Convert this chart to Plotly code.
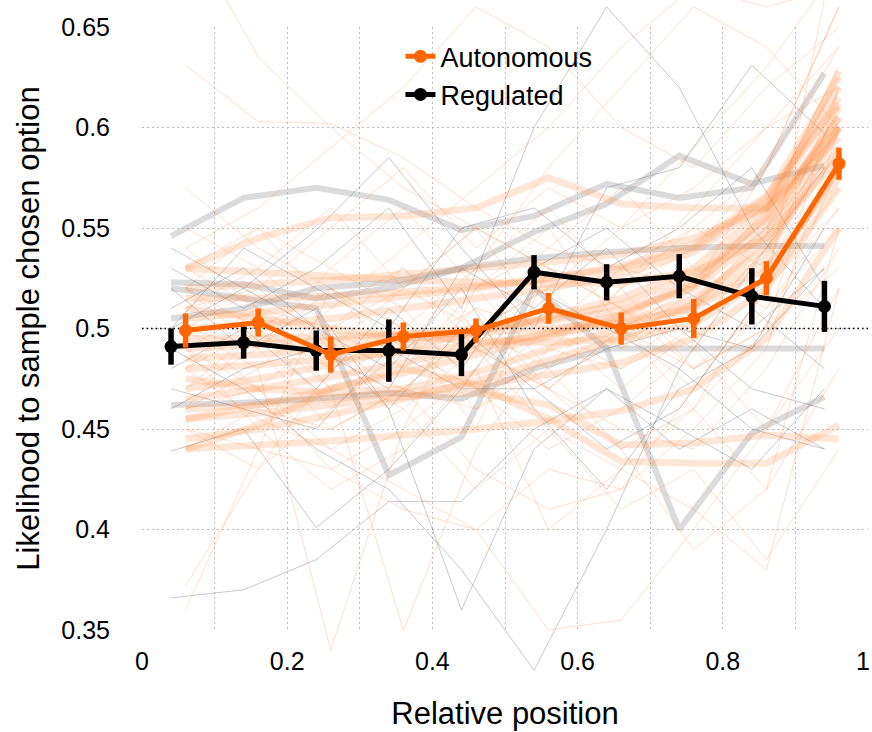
import plotly.graph_objects as go

# ---------------- data ----------------
x_reg = [0.04, 0.14, 0.24, 0.34, 0.44, 0.54, 0.64, 0.74, 0.84, 0.94]
x_aut = [0.06, 0.16, 0.26, 0.36, 0.46, 0.56, 0.66, 0.76, 0.86, 0.96]

reg_mean = [0.491, 0.493, 0.489, 0.489, 0.487, 0.528, 0.523, 0.526, 0.516, 0.511]
reg_err = [0.009, 0.008, 0.010, 0.0155, 0.0107, 0.0085, 0.009, 0.011, 0.014, 0.0127]

aut_mean = [0.499, 0.503, 0.487, 0.496, 0.499, 0.510, 0.500, 0.505, 0.525, 0.582]
aut_err = [0.0085, 0.007, 0.009, 0.007, 0.006, 0.0077, 0.008, 0.0097, 0.0085, 0.008]

ref_level = 0.5

x_ticks = [0, 0.2, 0.4, 0.6, 0.8]
x_ticktext = ["0", "0.2", "0.4", "0.6", "0.8"]
x_last_tick = 1
x_last_text = "1"
y_ticks = [0.35, 0.4, 0.45, 0.5, 0.55, 0.6, 0.65]
y_ticktext = ["0.35", "0.4", "0.45", "0.5", "0.55", "0.6", "0.65"]

# individual participants (thin) and fitted curves (thick)
aut_thin = [
    [0.70, 0.635, 0.60, 0.57, 0.55, 0.53, 0.52, 0.56, 0.60, 0.64],
    [0.631, 0.603, 0.602, 0.585, 0.56, 0.54, 0.53, 0.55, 0.58, 0.66],
    [0.372, 0.43, 0.48, 0.47, 0.50, 0.52, 0.49, 0.51, 0.55, 0.60],
    [0.36, 0.44, 0.52, 0.50, 0.46, 0.48, 0.50, 0.47, 0.52, 0.56],
    [0.50, 0.48, 0.34, 0.45, 0.52, 0.55, 0.50, 0.48, 0.50, 0.58],
    [0.53, 0.51, 0.47, 0.35, 0.44, 0.49, 0.52, 0.55, 0.53, 0.62],
    [0.48, 0.455, 0.44, 0.42, 0.40, 0.35, 0.355, 0.40, 0.45, 0.50],
    [0.45, 0.44, 0.43, 0.41, 0.40, 0.43, 0.42, 0.47, 0.52, 0.57],
    [0.52, 0.55, 0.53, 0.56, 0.52, 0.48, 0.44, 0.46, 0.42, 0.55],
    [0.49, 0.47, 0.50, 0.52, 0.55, 0.53, 0.51, 0.49, 0.52, 0.58],
    [0.55, 0.53, 0.56, 0.52, 0.50, 0.47, 0.45, 0.44, 0.48, 0.54],
    [0.47, 0.50, 0.48, 0.46, 0.49, 0.45, 0.41, 0.43, 0.385, 0.44],
    [0.51, 0.52, 0.49, 0.47, 0.43, 0.41, 0.42, 0.45, 0.49, 0.60],
    [0.46, 0.48, 0.51, 0.54, 0.57, 0.60, 0.64, 0.67, 0.66, 0.67],
    [0.54, 0.56, 0.59, 0.62, 0.66, 0.64, 0.60, 0.58, 0.62, 0.65],
    [0.50, 0.49, 0.52, 0.48, 0.51, 0.50, 0.53, 0.52, 0.56, 0.63],
    [0.44, 0.46, 0.45, 0.47, 0.46, 0.49, 0.48, 0.50, 0.54, 0.61],
    [0.57, 0.54, 0.52, 0.50, 0.49, 0.47, 0.50, 0.52, 0.55, 0.59],
    [0.48, 0.50, 0.47, 0.50, 0.53, 0.56, 0.52, 0.48, 0.51, 0.55],
    [0.52, 0.50, 0.46, 0.49, 0.47, 0.44, 0.46, 0.49, 0.45, 0.52],
    [0.46, 0.47, 0.43, 0.45, 0.48, 0.51, 0.49, 0.52, 0.58, 0.66],
    [0.53, 0.55, 0.51, 0.53, 0.50, 0.52, 0.55, 0.57, 0.60, 0.62],
    [0.49, 0.45, 0.42, 0.44, 0.48, 0.40, 0.43, 0.46, 0.50, 0.53],
    [0.51, 0.53, 0.50, 0.48, 0.52, 0.54, 0.57, 0.53, 0.51, 0.56],
    [0.47, 0.49, 0.53, 0.51, 0.47, 0.50, 0.48, 0.51, 0.53, 0.59],
    [0.50, 0.52, 0.55, 0.58, 0.54, 0.57, 0.55, 0.59, 0.63, 0.68],
    [0.45, 0.43, 0.46, 0.49, 0.51, 0.47, 0.44, 0.39, 0.42, 0.48],
    [0.54, 0.51, 0.49, 0.52, 0.55, 0.50, 0.47, 0.50, 0.54, 0.60],
    [0.48, 0.51, 0.48, 0.50, 0.45, 0.53, 0.51, 0.48, 0.50, 0.62],
    [0.52, 0.49, 0.45, 0.47, 0.50, 0.48, 0.52, 0.54, 0.58, 0.64],
    [0.50, 0.47, 0.44, 0.46, 0.42, 0.45, 0.43, 0.41, 0.38, 0.52],
    [0.49, 0.51, 0.50, 0.53, 0.49, 0.47, 0.50, 0.46, 0.52, 0.70],
    [0.46, 0.50, 0.52, 0.49, 0.53, 0.58, 0.62, 0.66, 0.64, 0.60],
]

aut_fit = [
    [0.505, 0.508, 0.512, 0.516, 0.520, 0.525, 0.530, 0.540, 0.565, 0.625],
    [0.470, 0.475, 0.482, 0.490, 0.498, 0.506, 0.515, 0.530, 0.560, 0.615],
    [0.455, 0.462, 0.470, 0.478, 0.487, 0.496, 0.506, 0.522, 0.552, 0.605],
    [0.520, 0.522, 0.524, 0.527, 0.530, 0.533, 0.537, 0.545, 0.560, 0.595],
    [0.480, 0.482, 0.485, 0.488, 0.492, 0.497, 0.503, 0.515, 0.540, 0.590],
    [0.445, 0.450, 0.457, 0.465, 0.474, 0.484, 0.495, 0.512, 0.545, 0.600],
    [0.495, 0.495, 0.496, 0.497, 0.498, 0.500, 0.503, 0.510, 0.530, 0.575],
    [0.530, 0.528, 0.526, 0.524, 0.523, 0.522, 0.523, 0.528, 0.545, 0.585],
    [0.460, 0.462, 0.465, 0.468, 0.472, 0.477, 0.483, 0.495, 0.520, 0.570],
    [0.510, 0.505, 0.500, 0.496, 0.494, 0.493, 0.495, 0.502, 0.525, 0.580],
    [0.440, 0.442, 0.444, 0.447, 0.450, 0.454, 0.459, 0.470, 0.495, 0.550],
    [0.490, 0.492, 0.494, 0.497, 0.500, 0.504, 0.509, 0.520, 0.548, 0.610],
    [0.530, 0.545, 0.555, 0.556, 0.560, 0.575, 0.562, 0.560, 0.560, 0.600],
    [0.455, 0.458, 0.462, 0.466, 0.468, 0.462, 0.442, 0.443, 0.447, 0.445],
    [0.440, 0.452, 0.470, 0.480, 0.472, 0.455, 0.434, 0.433, 0.433, 0.452],
    [0.475, 0.470, 0.468, 0.470, 0.478, 0.490, 0.500, 0.512, 0.535, 0.600],
    [0.500, 0.502, 0.505, 0.510, 0.515, 0.520, 0.527, 0.538, 0.562, 0.620],
    [0.465, 0.470, 0.476, 0.483, 0.490, 0.498, 0.507, 0.523, 0.556, 0.628],
    [0.515, 0.515, 0.516, 0.518, 0.521, 0.525, 0.531, 0.542, 0.566, 0.612],
    [0.485, 0.487, 0.490, 0.494, 0.499, 0.505, 0.512, 0.526, 0.555, 0.605],
]

reg_thin = [
    [0.366, 0.370, 0.385, 0.414, 0.414, 0.45, 0.47, 0.44, 0.46, 0.44],
    [0.439, 0.450, 0.401, 0.43, 0.47, 0.47, 0.49, 0.50, 0.47, 0.46],
    [0.50, 0.52, 0.549, 0.585, 0.54, 0.50, 0.57, 0.58, 0.631, 0.597],
    [0.52, 0.49, 0.51, 0.46, 0.50, 0.47, 0.44, 0.46, 0.51, 0.48],
    [0.48, 0.50, 0.47, 0.51, 0.48, 0.53, 0.55, 0.52, 0.50, 0.53],
    [0.53, 0.51, 0.53, 0.56, 0.51, 0.60, 0.66, 0.62, 0.55, 0.51],
    [0.47, 0.46, 0.45, 0.49, 0.47, 0.52, 0.50, 0.48, 0.45, 0.44],
    [0.51, 0.53, 0.50, 0.48, 0.52, 0.46, 0.42, 0.47, 0.49, 0.55],
    [0.49, 0.47, 0.44, 0.42, 0.38, 0.33, 0.40, 0.48, 0.53, 0.58],
    [0.50, 0.54, 0.52, 0.50, 0.55, 0.56, 0.53, 0.55, 0.58, 0.52],
    [0.46, 0.48, 0.49, 0.47, 0.53, 0.51, 0.54, 0.50, 0.49, 0.53],
    [0.54, 0.52, 0.50, 0.46, 0.36, 0.44, 0.47, 0.45, 0.43, 0.47],
]

reg_fit = [
    [0.546, 0.565, 0.570, 0.564, 0.549, 0.556, 0.572, 0.565, 0.570, 0.627],
    [0.523, 0.522, 0.515, 0.520, 0.530, 0.548, 0.562, 0.586, 0.572, 0.581],
    [0.505, 0.510, 0.520, 0.523, 0.530, 0.535, 0.538, 0.540, 0.541, 0.541],
    [0.462, 0.463, 0.465, 0.468, 0.465, 0.480, 0.490, 0.490, 0.490, 0.490],
    [0.520, 0.515, 0.510, 0.427, 0.446, 0.520, 0.490, 0.400, 0.448, 0.466],
]

# ---------------- styling ----------------
ORANGE = "#ff6600"
BLACK = "#000000"
FONT = "Liberation Sans, Arial, Helvetica, sans-serif"

W, H = 872, 732
PLOT_TOP, PLOT_BOT = 27, 630          # pixel rows of 0.65 and 0.35
PAPER_BOT = 672                        # extra room below for lines that spill
Y_LO, Y_HI = 0.35, 0.65
per_px = (Y_HI - Y_LO) / (PLOT_BOT - PLOT_TOP)
dom_lo = (PAPER_BOT - PLOT_BOT) / PAPER_BOT
dom_hi = (PAPER_BOT - PLOT_TOP) / PAPER_BOT
y2_range = [Y_LO - (PAPER_BOT - PLOT_BOT) * per_px, Y_HI + PLOT_TOP * per_px]

fig = go.Figure()

# empty trace to create the main (axes) subplot
fig.add_trace(go.Scatter(x=[], y=[], xaxis="x", yaxis="y", showlegend=False,
                         hoverinfo="skip"))

S = dict(xaxis="x2", yaxis="y2", mode="lines", showlegend=False, hoverinfo="skip")

for ys in reg_fit:
    fig.add_trace(go.Scatter(x=x_reg, y=ys, line=dict(color="rgba(160,160,160,0.38)", width=6), **S))
for ys in reg_thin:
    fig.add_trace(go.Scatter(x=x_reg, y=ys, line=dict(color="rgba(90,90,90,0.33)", width=1), **S))
for ys in aut_fit:
    fig.add_trace(go.Scatter(x=x_aut, y=ys, line=dict(color="rgba(255,130,50,0.2)", width=7), **S))
for ys in aut_thin:
    fig.add_trace(go.Scatter(x=x_aut, y=ys, line=dict(color="rgba(255,130,50,0.26)", width=1), **S))

# reference line at chance
fig.add_trace(go.Scatter(x=[0, 1], y=[ref_level, ref_level],
                         line=dict(color="black", width=1.5, dash="1.5px,3px"), **S))

# means
fig.add_trace(go.Scatter(
    x=x_reg, y=reg_mean, mode="lines+markers", name="Regulated",
    xaxis="x2", yaxis="y2", legendrank=2,
    line=dict(color=BLACK, width=5), marker=dict(color=BLACK, size=13),
    error_y=dict(type="data", array=reg_err, color=BLACK, thickness=5.5, width=0)))
fig.add_trace(go.Scatter(
    x=x_aut, y=aut_mean, mode="lines+markers", name="Autonomous",
    xaxis="x2", yaxis="y2", legendrank=1,
    line=dict(color=ORANGE, width=5), marker=dict(color=ORANGE, size=13),
    error_y=dict(type="data", array=aut_err, color=ORANGE, thickness=5.5, width=0)))

grid = dict(gridcolor="#bdbdbd", griddash="1.5px,3.5px", gridwidth=1)

fig.update_layout(
    width=W, height=H,
    margin=dict(l=142, r=4, t=0, b=H - PAPER_BOT, autoexpand=False),
    paper_bgcolor="white", plot_bgcolor="rgba(0,0,0,0)",
    font=dict(family=FONT, size=25, color="black"),
    showlegend=True,
    legend=dict(x=0.356, y=0.952, xanchor="left", yanchor="top",
                traceorder="normal", bgcolor="rgba(255,255,255,0)",
                font=dict(size=27, family=FONT), tracegroupgap=0),
    xaxis=dict(range=[0, 1], tickvals=x_ticks, ticktext=x_ticktext,
               showgrid=True, **grid,
               minor=dict(dtick=0.1, tick0=0, showgrid=True, **grid),
               zeroline=False, showline=False, ticks="",
               ticklabelstandoff=14, automargin=False,
               ticklabeloverflow="allow",
               tickfont=dict(size=25, family=FONT),
               title=dict(text="Relative position", standoff=28,
                          font=dict(size=31, family=FONT)),
               anchor="y"),
    yaxis=dict(range=[Y_LO, Y_HI], domain=[dom_lo, dom_hi],
               tickvals=y_ticks, ticktext=y_ticktext,
               showgrid=True, **grid,
               zeroline=False, showline=False, ticks="",
               ticklabelstandoff=31, automargin=False,
               ticklabeloverflow="allow",
               tickfont=dict(size=25, family=FONT),
               title=dict(text="Likelihood to sample chosen option", standoff=12,
                          font=dict(size=31, family=FONT)),
               anchor="x"),
    xaxis2=dict(range=[0, 1], domain=[0, 1], anchor="y2", visible=False,
                showgrid=False, zeroline=False),
    yaxis2=dict(range=y2_range, domain=[0, 1], anchor="x2", visible=False,
                showgrid=False, zeroline=False),
)

# last x tick label placed as annotation so it stays inside the page edge
fig.add_annotation(x=x_last_tick, xref="x", y=(PAPER_BOT - 661) / PAPER_BOT,
                   yref="paper", text=x_last_text, showarrow=False,
                   xanchor="center", yanchor="middle", xshift=-5,
                   font=dict(size=25, family=FONT, color="black"))

fig.write_html("out.html", config={"displayModeBar": False},
               post_script="document.body.style.margin='0px';")
